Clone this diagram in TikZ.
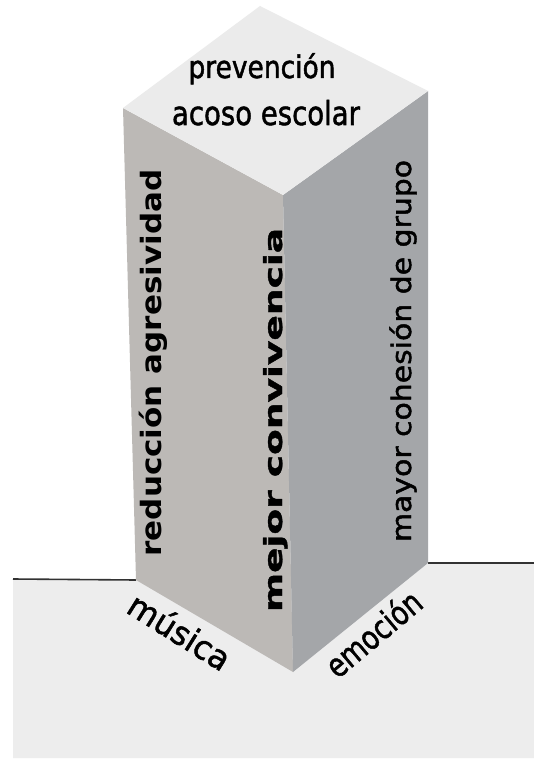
\documentclass[tikz,border=0pt]{standalone}
\usepackage{fontspec}
\setmainfont{DejaVu Sans}
\newfontfamily\medfont[FakeBold=1.6]{DejaVu Sans}
\newfontfamily\heavyfont[FakeBold=1.2]{DejaVu Sans Bold}
\usepackage{graphicx}
\definecolor{topc}{RGB}{235,235,235}
\definecolor{leftc}{RGB}{188,185,182}
\definecolor{rightc}{RGB}{164,166,169}
\definecolor{groundc}{RGB}{237,237,237}
\definecolor{linec}{RGB}{50,50,50}
\newcommand{\fitw}[3]{\fontsize{#2}{#2}\selectfont\resizebox{#1}{\height}{#3}}
\begin{document}
\begin{tikzpicture}[x=1pt,y=-1pt,
  lbl/.style={inner sep=0pt,outer sep=0pt,text=black}]
\useasboundingbox (0,0) rectangle (534,759);
\fill[white] (0,0) rectangle (534,759);
% prism corners
\coordinate (T) at (260,6);
\coordinate (L) at (123,108);
\coordinate (C) at (283,195);
\coordinate (R) at (428,91);
\coordinate (LB) at (136,580);
\coordinate (CB) at (293,672);
\coordinate (RB) at (428,563);
% ground
\fill[groundc] (13,579) -- (200,579) -- (200,564) -- (534,564) -- (534,758) -- (13,758) -- cycle;
\draw[linec, line width=1.6pt] (13,579) -- (LB);
\draw[linec, line width=1.6pt] (RB) -- (534,563);
% faces
\fill[leftc] (L) -- (C) -- (CB) -- (LB) -- cycle;
\fill[rightc] (C) -- (R) -- (RB) -- (CB) -- cycle;
\fill[topc] (T) -- (R) -- (C) -- (L) -- cycle;
% top texts
\node[lbl, anchor=base] (prev) at (262,78) {\medfont\fitw{147pt}{31}{prevención}};
\node[lbl, anchor=base] (acoso) at (266,125) {\medfont\fitw{188pt}{33}{acoso escolar}};
% vertical texts
\node[lbl, anchor=base, rotate=90] (red) at (161,363) {\bfseries\fitw{387pt}{28}{reducción agresividad}};
\node[lbl, anchor=base, rotate=90] (mej) at (282,420) {\heavyfont\fitw{384pt}{25}{mejor convivencia}};
\node[lbl, anchor=base, rotate=90] (may) at (411,351) {\medfont\fitw{382pt}{27}{mayor cohesión de grupo}};
% bottom labels
\node[lbl, rotate=-32] (mus) at (180,631) {\medfont\fitw{114pt}{33}{música}};
\node[lbl, rotate=40] (emo) at (373,633) {\medfont\fitw{114pt}{33}{emoción}};
\end{tikzpicture}
\end{document}
